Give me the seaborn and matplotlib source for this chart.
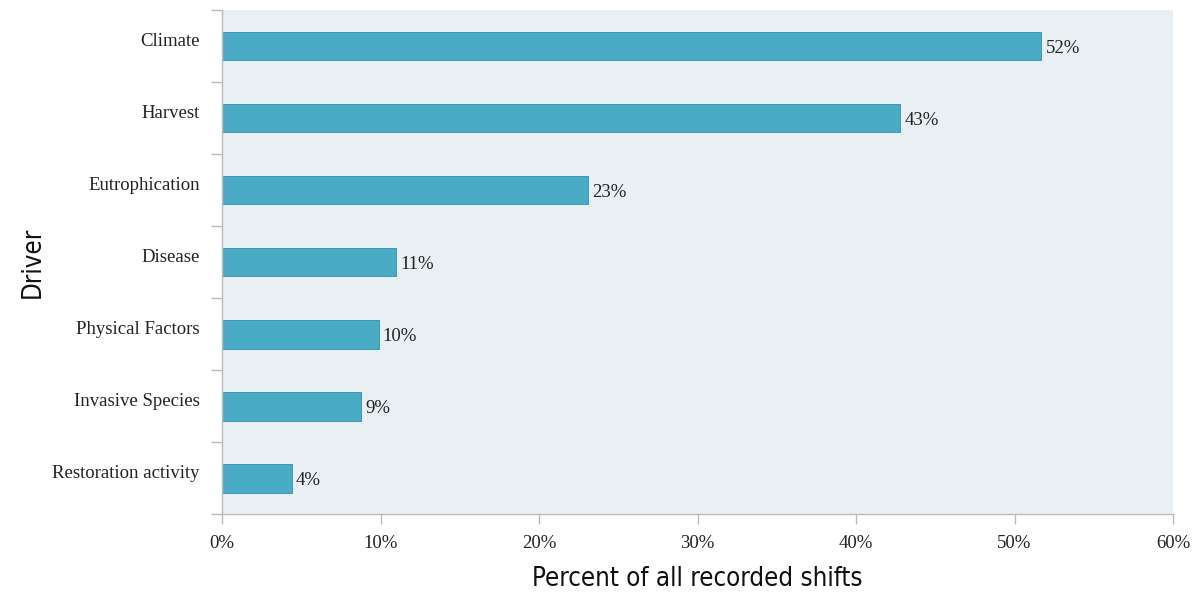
import numpy as np
import pandas as pd
import seaborn as sns
import matplotlib
matplotlib.use('Agg')
import matplotlib.pyplot as plt
from matplotlib.ticker import FixedLocator, PercentFormatter
from matplotlib.transforms import ScaledTranslation

# veriler
drivers = ["Climate", "Harvest", "Eutrophication", "Disease",
           "Physical Factors", "Invasive Species", "Restoration activity"]
percent = [51.7, 42.8, 23.1, 11.0, 9.9, 8.8, 4.4]
labels = ["52%", "43%", "23%", "11%", "10%", "9%", "4%"]

df = pd.DataFrame({"driver": drivers, "percent": percent})

sns.set_style("white")
plt.rcParams['font.family'] = ['Liberation Serif', 'DejaVu Serif']

fig = plt.figure(figsize=(12, 6.1), dpi=100)
ax = fig.add_axes([0.185, 0.157, 0.7925, 0.8267])
ax.set_facecolor("#e9f0f4")

sns.barplot(data=df, x="percent", y="driver", orient="h", ax=ax,
            color="#4aabc5", saturation=1, width=0.4,
            edgecolor="#4197b0", linewidth=0.7)

for i, (v, lab) in enumerate(zip(percent, labels)):
    ax.text(v + 0.25, i + 0.03, lab, va="center", ha="left", fontsize=13.5, color="#222222")

ax.set_xlim(0, 60)
ax.set_ylim(6.5, -0.5)
ax.set_xticks(np.arange(0, 61, 10))
ax.xaxis.set_major_formatter(PercentFormatter(decimals=0))
ax.yaxis.set_minor_locator(FixedLocator(np.arange(-0.5, 7, 1)))
ax.tick_params(which="both", bottom=True, left=True)
ax.tick_params(axis="y", which="major", length=0, pad=16, labelsize=13.5, labelcolor="#222222")
ax.tick_params(axis="y", which="minor", length=8, color="#bbbbbb", width=1)
ax.tick_params(axis="x", which="major", length=7, color="#bbbbbb", width=1,
               pad=8, labelsize=13.5, labelcolor="#222222")

# etiketleri biraz yukari kaydir
shift = ScaledTranslation(0, 5 / 72, fig.dpi_scale_trans)
for t in ax.get_yticklabels():
    t.set_transform(t.get_transform() + shift)

for s in ["top", "right"]:
    ax.spines[s].set_visible(False)
for s in ["left", "bottom"]:
    ax.spines[s].set_color("#bbbbbb")
    ax.spines[s].set_linewidth(1)

ax.set_xlabel("Percent of all recorded shifts", fontsize=18.5, labelpad=10,
              family='DejaVu Sans', fontstretch='condensed', color="#111111")
ax.set_ylabel("Driver", fontsize=18.5,
              family='DejaVu Sans', fontstretch='condensed', color="#111111")
ax.yaxis.set_label_coords(-0.185, 0.5)

fig.savefig("out.png", dpi=100)
